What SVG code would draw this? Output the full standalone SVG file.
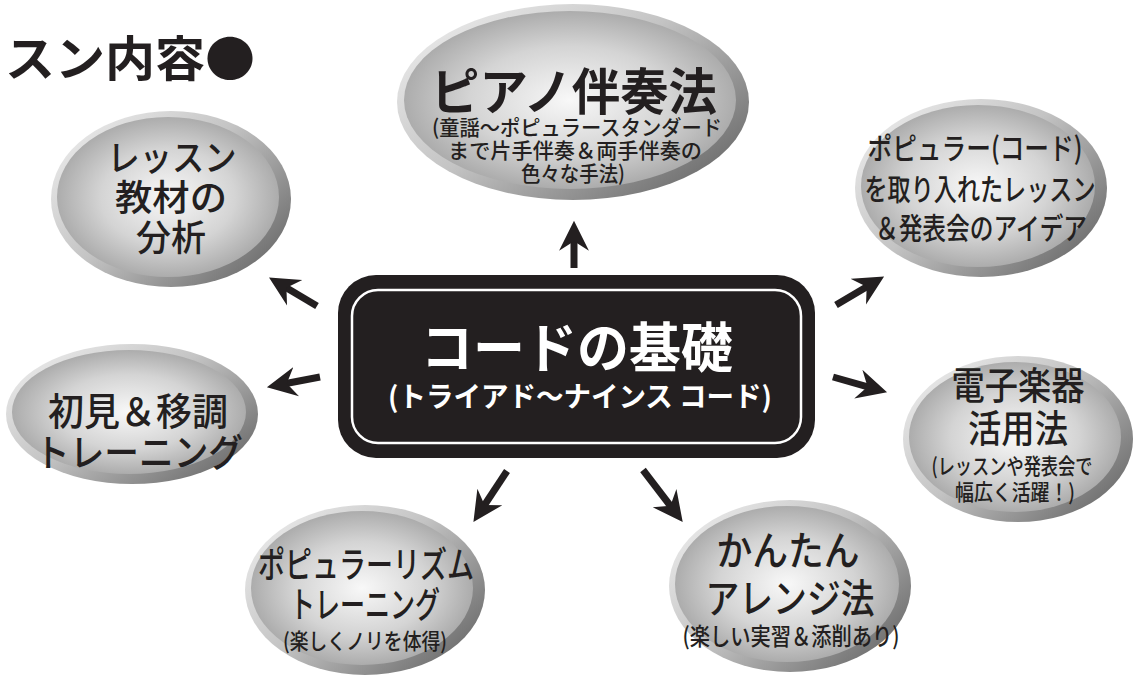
<svg xmlns="http://www.w3.org/2000/svg" width="1137" height="676" viewBox="0 0 1137 676">
<defs>
<linearGradient id="rim" x1="0" y1="0" x2="1" y2="0.8">
<stop offset="0" stop-color="#f2f2f2"/>
<stop offset="0.5" stop-color="#c4c4c4"/>
<stop offset="1" stop-color="#6a6a6a"/>
</linearGradient>
<radialGradient id="face" cx="0.5" cy="0.5" r="0.55">
<stop offset="0" stop-color="#f8f8f8"/>
<stop offset="0.55" stop-color="#d4d4d4"/>
<stop offset="1" stop-color="#a2a2a2"/>
</radialGradient>
<marker id="ah" markerUnits="userSpaceOnUse" markerWidth="32" markerHeight="32" viewBox="0 -15 30 30" refX="11" refY="0" orient="auto">
<path d="M0,-14 L28,0 L0,14 L9,0 Z" fill="#231f20"/>
</marker>
<style>
.rim{fill:url(#rim)}
.face{fill:url(#face)}
.t{font-family:"Noto Sans CJK JP","Noto Sans",sans-serif;fill:#231f20;text-anchor:middle;font-weight:500}
.b{font-weight:700}
.w{fill:#ffffff}
.arr{stroke:#231f20;stroke-width:7;fill:none;marker-end:url(#ah)}
</style>
</defs>
<rect width="1137" height="676" fill="#ffffff"/>

<g id="heading">
<text class="t b" x="130" y="76" font-size="48" textLength="250" lengthAdjust="spacingAndGlyphs">スン内容●</text>
</g>

<g id="connectors">
<line class="arr" x1="574" y1="268" x2="574" y2="239"/>
<line class="arr" x1="317" y1="306" x2="284.6" y2="286.7"/>
<line class="arr" x1="320" y1="377" x2="284.7" y2="383.8"/>
<line class="arr" x1="836" y1="305" x2="868.5" y2="285.7"/>
<line class="arr" x1="833" y1="377" x2="869.6" y2="387.4"/>
<line class="arr" x1="507" y1="471" x2="483.4" y2="506.8"/>
<line class="arr" x1="643" y1="470" x2="671.7" y2="507.5"/>
</g>

<g id="node-piano">
<ellipse class="rim" cx="573" cy="102" rx="176" ry="98"/>
<ellipse class="face" cx="570" cy="100" rx="166" ry="89"/>
<text class="t b" x="574" y="110" font-size="50" textLength="286" lengthAdjust="spacingAndGlyphs">ピアノ伴奏法</text>
<text class="t" x="577" y="135" font-size="21" textLength="290" lengthAdjust="spacingAndGlyphs">(童謡〜ポピュラースタンダード</text>
<text class="t" x="575" y="158" font-size="21" textLength="254" lengthAdjust="spacingAndGlyphs">まで片手伴奏＆両手伴奏の</text>
<text class="t" x="573" y="181" font-size="21" textLength="104" lengthAdjust="spacingAndGlyphs">色々な手法)</text>
</g>

<g id="node-lesson">
<ellipse class="rim" cx="171" cy="199" rx="120" ry="88"/>
<ellipse class="face" cx="168" cy="197" rx="111" ry="80"/>
<text class="t" x="172" y="171" font-size="36" textLength="129" lengthAdjust="spacingAndGlyphs">レッスン</text>
<text class="t" x="171" y="211" font-size="36" textLength="112" lengthAdjust="spacingAndGlyphs">教材の</text>
<text class="t" x="171" y="251" font-size="36" textLength="70" lengthAdjust="spacingAndGlyphs">分析</text>
</g>

<g id="node-popular">
<ellipse class="rim" cx="981" cy="188" rx="126" ry="89"/>
<ellipse class="face" cx="978" cy="186" rx="117" ry="81"/>
<text class="t" x="975" y="159" font-size="30" textLength="215" lengthAdjust="spacingAndGlyphs">ポピュラー(コード)</text>
<text class="t" x="980" y="200" font-size="30" textLength="231" lengthAdjust="spacingAndGlyphs">を取り入れたレッスン</text>
<text class="t" x="981" y="239" font-size="30" textLength="212" lengthAdjust="spacingAndGlyphs">＆発表会のアイデア</text>
</g>

<g id="node-sight">
<ellipse class="rim" cx="132" cy="414" rx="126" ry="70"/>
<ellipse class="face" cx="129" cy="412" rx="117" ry="62"/>
<text class="t" x="138" y="425" font-size="38" textLength="180" lengthAdjust="spacingAndGlyphs">初見＆移調</text>
<text class="t" x="139" y="466" font-size="38" textLength="208" lengthAdjust="spacingAndGlyphs">トレーニング</text>
</g>

<g id="node-center">
<rect x="338" y="275" width="477" height="183" rx="38" fill="#231f20"/>
<rect x="352" y="290" width="449" height="153" rx="26" fill="none" stroke="#ffffff" stroke-width="2.5"/>
<text class="t b w" x="577" y="368" font-size="54" textLength="312" lengthAdjust="spacingAndGlyphs">コードの基礎</text>
<text class="t b w" x="580" y="407" font-size="28" textLength="384" lengthAdjust="spacingAndGlyphs">(トライアド〜ナインス コード)</text>
</g>

<g id="node-electronic">
<ellipse class="rim" cx="1018" cy="439" rx="115" ry="83"/>
<ellipse class="face" cx="1015" cy="437" rx="106" ry="75"/>
<text class="t" x="1018" y="399" font-size="38" textLength="133" lengthAdjust="spacingAndGlyphs">電子楽器</text>
<text class="t" x="1018" y="442" font-size="38" textLength="100" lengthAdjust="spacingAndGlyphs">活用法</text>
<text class="t" x="1012" y="474" font-size="22" textLength="161" lengthAdjust="spacingAndGlyphs">(レッスンや発表会で</text>
<text class="t" x="1015" y="500" font-size="22" textLength="120" lengthAdjust="spacingAndGlyphs">幅広く活躍！)</text>
</g>

<g id="node-rhythm">
<ellipse class="rim" cx="365" cy="590" rx="120" ry="85"/>
<ellipse class="face" cx="362" cy="588" rx="111" ry="77"/>
<text class="t" x="366" y="578" font-size="36" textLength="216" lengthAdjust="spacingAndGlyphs">ポピュラーリズム</text>
<text class="t" x="365" y="618" font-size="36" textLength="150" lengthAdjust="spacingAndGlyphs">トレーニング</text>
<text class="t" x="365" y="649" font-size="22" textLength="164" lengthAdjust="spacingAndGlyphs">(楽しくノリを体得)</text>
</g>

<g id="node-arrange">
<ellipse class="rim" cx="790" cy="586" rx="121" ry="86"/>
<ellipse class="face" cx="787" cy="584" rx="112" ry="78"/>
<text class="t" x="788" y="565" font-size="40" textLength="143" lengthAdjust="spacingAndGlyphs">かんたん</text>
<text class="t" x="790" y="613" font-size="40" textLength="169" lengthAdjust="spacingAndGlyphs">アレンジ法</text>
<text class="t" x="791" y="645" font-size="24" textLength="217" lengthAdjust="spacingAndGlyphs">(楽しい実習＆添削あり)</text>
</g>
</svg>
